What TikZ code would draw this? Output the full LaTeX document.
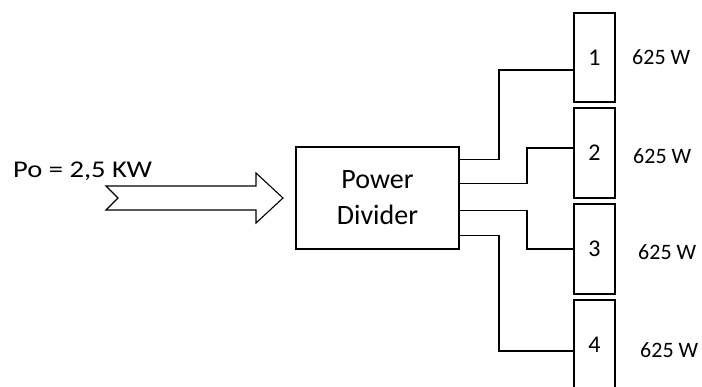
\documentclass[tikz,border=0pt]{standalone}
\usepackage{fontspec}
\setmainfont{Carlito}
\usetikzlibrary{calc}
\tikzset{
  wire/.style={draw=black, line width=1.3pt},
  block/.style={draw=black, line width=1.3pt, fill=white, inner sep=0pt},
  outbox/.style={block, minimum width=41pt, minimum height=89pt, font=\fontsize{24}{28}\selectfont},
  watt/.style={anchor=base west, inner sep=0pt, font=\fontsize{22}{26}\selectfont},
}
\begin{document}
\begin{tikzpicture}[x=1pt, y=-1pt]
\clip (0,0) rectangle (702,386);
\fill[white] (0,0) rectangle (702,386);

% input arrow and its label
\draw[line width=1.1pt, fill=white] (106,186) -- (256,186) -- (256,173) -- (283,198)
  -- (256,223) -- (256,210) -- (106,210) -- (118,198) -- cycle;
\node[anchor=base west, inner sep=0pt] (po) at (13,177)
  {\fontsize{24}{28}\selectfont\scalebox{1.19}[1]{Po = 2,5 KW}};

% divider block
\node[block, minimum width=163pt, minimum height=102pt, align=center,
      font=\fontsize{28}{36}\selectfont] (pd) at (377.5,198) {Power\\Divider};

% output loads
\node[outbox] (b1) at (594.5,57.5) {1};
\node[outbox, minimum height=90pt] (b2) at (594.5,153) {2};
\node[outbox, minimum height=90pt] (b3) at (594.5,249) {3};
\node[outbox, minimum height=90pt] (b4) at (594.5,345) {4};

% feed lines
\draw[wire] (pd.north east) ++(0,13) -| (499,70) -- (b1.west |- 499,70);
\draw[wire] (pd.north east) ++(0,37) -| (527,148) -- (b2.west |- 527,148);
\draw[wire] (pd.north east) ++(0,64) -| (527,249) -- (b3.west |- 527,249);
\draw[wire] (pd.north east) ++(0,89) -| (499,351) -- (b4.west |- 499,351);

% power per output
\node[watt] (w1) at (632,64) {625 W};
\node[watt] (w2) at (633,163) {625 W};
\node[watt] (w3) at (638,259) {625 W};
\node[watt] (w4) at (640,357) {625 W};
\end{tikzpicture}
\end{document}
